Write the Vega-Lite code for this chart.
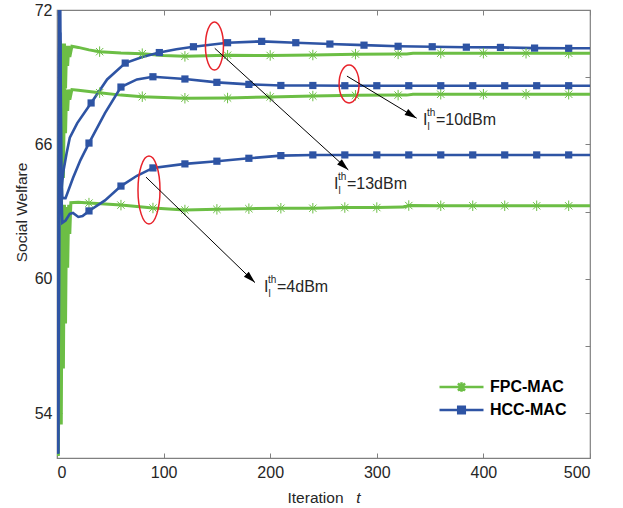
{
  "$schema": "https://vega.github.io/schema/vega-lite/v6.json",
  "width": 533,
  "height": 448,
  "autosize": "none",
  "padding": {"left": 57, "top": 10, "right": 33, "bottom": 50},
  "background": "white",
  "config": {
    "font": "Liberation Sans",
    "view": {"stroke": "#808080", "strokeWidth": 1.2},
    "axis": {
      "grid": false,
      "domain": false,
      "tickColor": "#808080",
      "tickSize": -5,
      "tickWidth": 1,
      "labelFont": "Liberation Sans",
      "labelFontSize": 16,
      "labelColor": "#262626",
      "titleFont": "Liberation Sans",
      "titleFontSize": 15.5,
      "titleFontWeight": "normal",
      "titleColor": "#262626"
    }
  },
  "datasets": {
    "curves": [
      {"s":"FPC-MAC","c":"13","t":1,"v":52.1,"m":0},
      {"s":"FPC-MAC","c":"13","t":2,"v":66,"m":0},
      {"s":"FPC-MAC","c":"13","t":3,"v":70.6,"m":0},
      {"s":"FPC-MAC","c":"13","t":4,"v":64.5,"m":0},
      {"s":"FPC-MAC","c":"13","t":5,"v":70.5,"m":0},
      {"s":"FPC-MAC","c":"13","t":6,"v":67,"m":0},
      {"s":"FPC-MAC","c":"13","t":7,"v":70.5,"m":0},
      {"s":"FPC-MAC","c":"13","t":8,"v":68.5,"m":0},
      {"s":"FPC-MAC","c":"13","t":9,"v":70.4,"m":0},
      {"s":"FPC-MAC","c":"13","t":10,"v":69.5,"m":0},
      {"s":"FPC-MAC","c":"13","t":11,"v":70.4,"m":0},
      {"s":"FPC-MAC","c":"13","t":12,"v":69.9,"m":0},
      {"s":"FPC-MAC","c":"13","t":14,"v":70.38,"m":0},
      {"s":"FPC-MAC","c":"13","t":20,"v":70.33,"m":0},
      {"s":"FPC-MAC","c":"13","t":30,"v":70.22,"m":0},
      {"s":"FPC-MAC","c":"13","t":40,"v":70.14,"m":1},
      {"s":"FPC-MAC","c":"13","t":60,"v":70.08,"m":0},
      {"s":"FPC-MAC","c":"13","t":80,"v":70.05,"m":1},
      {"s":"FPC-MAC","c":"13","t":100,"v":69.97,"m":0},
      {"s":"FPC-MAC","c":"13","t":120,"v":69.93,"m":1},
      {"s":"FPC-MAC","c":"13","t":160,"v":69.98,"m":1},
      {"s":"FPC-MAC","c":"13","t":200,"v":69.97,"m":1},
      {"s":"FPC-MAC","c":"13","t":240,"v":69.99,"m":1},
      {"s":"FPC-MAC","c":"13","t":280,"v":70.03,"m":1},
      {"s":"FPC-MAC","c":"13","t":320,"v":70.04,"m":1},
      {"s":"FPC-MAC","c":"13","t":328,"v":70.04,"m":0},
      {"s":"FPC-MAC","c":"13","t":334,"v":70.07,"m":0},
      {"s":"FPC-MAC","c":"13","t":360,"v":70.07,"m":1},
      {"s":"FPC-MAC","c":"13","t":400,"v":70.07,"m":1},
      {"s":"FPC-MAC","c":"13","t":440,"v":70.07,"m":1},
      {"s":"FPC-MAC","c":"13","t":480,"v":70.07,"m":1},
      {"s":"FPC-MAC","c":"13","t":500,"v":70.07,"m":0},

      {"s":"FPC-MAC","c":"10","t":1,"v":52.1,"m":0},
      {"s":"FPC-MAC","c":"10","t":2,"v":61,"m":0},
      {"s":"FPC-MAC","c":"10","t":3,"v":68.6,"m":0},
      {"s":"FPC-MAC","c":"10","t":4,"v":61.5,"m":0},
      {"s":"FPC-MAC","c":"10","t":5,"v":68.5,"m":0},
      {"s":"FPC-MAC","c":"10","t":6,"v":64.5,"m":0},
      {"s":"FPC-MAC","c":"10","t":7,"v":68.5,"m":0},
      {"s":"FPC-MAC","c":"10","t":8,"v":66.5,"m":0},
      {"s":"FPC-MAC","c":"10","t":9,"v":68.45,"m":0},
      {"s":"FPC-MAC","c":"10","t":10,"v":67.5,"m":0},
      {"s":"FPC-MAC","c":"10","t":11,"v":68.45,"m":0},
      {"s":"FPC-MAC","c":"10","t":12,"v":68.0,"m":0},
      {"s":"FPC-MAC","c":"10","t":14,"v":68.45,"m":0},
      {"s":"FPC-MAC","c":"10","t":20,"v":68.42,"m":0},
      {"s":"FPC-MAC","c":"10","t":40,"v":68.31,"m":1},
      {"s":"FPC-MAC","c":"10","t":60,"v":68.2,"m":0},
      {"s":"FPC-MAC","c":"10","t":80,"v":68.13,"m":1},
      {"s":"FPC-MAC","c":"10","t":120,"v":68.06,"m":1},
      {"s":"FPC-MAC","c":"10","t":160,"v":68.07,"m":1},
      {"s":"FPC-MAC","c":"10","t":200,"v":68.12,"m":1},
      {"s":"FPC-MAC","c":"10","t":240,"v":68.16,"m":1},
      {"s":"FPC-MAC","c":"10","t":280,"v":68.19,"m":1},
      {"s":"FPC-MAC","c":"10","t":320,"v":68.2,"m":1},
      {"s":"FPC-MAC","c":"10","t":328,"v":68.2,"m":0},
      {"s":"FPC-MAC","c":"10","t":334,"v":68.24,"m":0},
      {"s":"FPC-MAC","c":"10","t":360,"v":68.24,"m":1},
      {"s":"FPC-MAC","c":"10","t":400,"v":68.24,"m":1},
      {"s":"FPC-MAC","c":"10","t":440,"v":68.24,"m":1},
      {"s":"FPC-MAC","c":"10","t":480,"v":68.24,"m":1},
      {"s":"FPC-MAC","c":"10","t":500,"v":68.24,"m":0},

      {"s":"FPC-MAC","c":"4","t":1,"v":52.1,"m":0},
      {"s":"FPC-MAC","c":"4","t":2,"v":55,"m":0},
      {"s":"FPC-MAC","c":"4","t":3,"v":63.4,"m":0},
      {"s":"FPC-MAC","c":"4","t":4,"v":53.5,"m":0},
      {"s":"FPC-MAC","c":"4","t":5,"v":63.2,"m":0},
      {"s":"FPC-MAC","c":"4","t":6,"v":56,"m":0},
      {"s":"FPC-MAC","c":"4","t":7,"v":63.3,"m":0},
      {"s":"FPC-MAC","c":"4","t":8,"v":58,"m":0},
      {"s":"FPC-MAC","c":"4","t":9,"v":63.2,"m":0},
      {"s":"FPC-MAC","c":"4","t":10,"v":60.5,"m":0},
      {"s":"FPC-MAC","c":"4","t":11,"v":63.3,"m":0},
      {"s":"FPC-MAC","c":"4","t":12,"v":62,"m":0},
      {"s":"FPC-MAC","c":"4","t":13,"v":63.4,"m":0},
      {"s":"FPC-MAC","c":"4","t":20,"v":63.42,"m":0},
      {"s":"FPC-MAC","c":"4","t":30,"v":63.38,"m":1},
      {"s":"FPC-MAC","c":"4","t":60,"v":63.29,"m":1},
      {"s":"FPC-MAC","c":"4","t":90,"v":63.16,"m":1},
      {"s":"FPC-MAC","c":"4","t":120,"v":63.07,"m":1},
      {"s":"FPC-MAC","c":"4","t":150,"v":63.1,"m":1},
      {"s":"FPC-MAC","c":"4","t":180,"v":63.13,"m":1},
      {"s":"FPC-MAC","c":"4","t":210,"v":63.15,"m":1},
      {"s":"FPC-MAC","c":"4","t":240,"v":63.15,"m":1},
      {"s":"FPC-MAC","c":"4","t":270,"v":63.18,"m":1},
      {"s":"FPC-MAC","c":"4","t":300,"v":63.18,"m":1},
      {"s":"FPC-MAC","c":"4","t":325,"v":63.2,"m":0},
      {"s":"FPC-MAC","c":"4","t":330,"v":63.27,"m":1},
      {"s":"FPC-MAC","c":"4","t":360,"v":63.26,"m":1},
      {"s":"FPC-MAC","c":"4","t":390,"v":63.26,"m":1},
      {"s":"FPC-MAC","c":"4","t":420,"v":63.26,"m":1},
      {"s":"FPC-MAC","c":"4","t":450,"v":63.26,"m":1},
      {"s":"FPC-MAC","c":"4","t":480,"v":63.26,"m":1},
      {"s":"FPC-MAC","c":"4","t":500,"v":63.26,"m":0},

      {"s":"HCC-MAC","c":"13","t":1,"v":52.2,"m":0},
      {"s":"HCC-MAC","c":"13","t":2,"v":73,"m":0},
      {"s":"HCC-MAC","c":"13","t":3,"v":66,"m":0},
      {"s":"HCC-MAC","c":"13","t":4,"v":63.9,"m":0},
      {"s":"HCC-MAC","c":"13","t":6,"v":64.8,"m":0},
      {"s":"HCC-MAC","c":"13","t":9,"v":65.6,"m":0},
      {"s":"HCC-MAC","c":"13","t":12,"v":66.3,"m":0},
      {"s":"HCC-MAC","c":"13","t":19,"v":66.95,"m":0},
      {"s":"HCC-MAC","c":"13","t":32,"v":67.85,"m":1},
      {"s":"HCC-MAC","c":"13","t":47,"v":68.9,"m":0},
      {"s":"HCC-MAC","c":"13","t":64,"v":69.63,"m":1},
      {"s":"HCC-MAC","c":"13","t":80,"v":69.9,"m":0},
      {"s":"HCC-MAC","c":"13","t":96,"v":70.1,"m":1},
      {"s":"HCC-MAC","c":"13","t":112,"v":70.25,"m":0},
      {"s":"HCC-MAC","c":"13","t":128,"v":70.36,"m":1},
      {"s":"HCC-MAC","c":"13","t":160,"v":70.54,"m":1},
      {"s":"HCC-MAC","c":"13","t":192,"v":70.6,"m":1},
      {"s":"HCC-MAC","c":"13","t":224,"v":70.54,"m":1},
      {"s":"HCC-MAC","c":"13","t":256,"v":70.48,"m":1},
      {"s":"HCC-MAC","c":"13","t":288,"v":70.43,"m":1},
      {"s":"HCC-MAC","c":"13","t":320,"v":70.38,"m":1},
      {"s":"HCC-MAC","c":"13","t":352,"v":70.36,"m":1},
      {"s":"HCC-MAC","c":"13","t":384,"v":70.34,"m":1},
      {"s":"HCC-MAC","c":"13","t":416,"v":70.33,"m":1},
      {"s":"HCC-MAC","c":"13","t":448,"v":70.3,"m":1},
      {"s":"HCC-MAC","c":"13","t":480,"v":70.29,"m":1},
      {"s":"HCC-MAC","c":"13","t":500,"v":70.29,"m":0},

      {"s":"HCC-MAC","c":"10","t":1,"v":52.2,"m":0},
      {"s":"HCC-MAC","c":"10","t":2,"v":70,"m":0},
      {"s":"HCC-MAC","c":"10","t":3,"v":72.5,"m":0},
      {"s":"HCC-MAC","c":"10","t":4,"v":65,"m":0},
      {"s":"HCC-MAC","c":"10","t":5,"v":63.6,"m":0},
      {"s":"HCC-MAC","c":"10","t":8,"v":63.6,"m":0},
      {"s":"HCC-MAC","c":"10","t":15,"v":64.5,"m":0},
      {"s":"HCC-MAC","c":"10","t":22,"v":65.3,"m":0},
      {"s":"HCC-MAC","c":"10","t":30,"v":66.06,"m":1},
      {"s":"HCC-MAC","c":"10","t":45,"v":67.4,"m":0},
      {"s":"HCC-MAC","c":"10","t":60,"v":68.56,"m":1},
      {"s":"HCC-MAC","c":"10","t":75,"v":68.9,"m":0},
      {"s":"HCC-MAC","c":"10","t":90,"v":69.02,"m":1},
      {"s":"HCC-MAC","c":"10","t":120,"v":68.92,"m":1},
      {"s":"HCC-MAC","c":"10","t":150,"v":68.77,"m":1},
      {"s":"HCC-MAC","c":"10","t":180,"v":68.68,"m":1},
      {"s":"HCC-MAC","c":"10","t":210,"v":68.63,"m":1},
      {"s":"HCC-MAC","c":"10","t":240,"v":68.63,"m":1},
      {"s":"HCC-MAC","c":"10","t":270,"v":68.62,"m":1},
      {"s":"HCC-MAC","c":"10","t":300,"v":68.62,"m":1},
      {"s":"HCC-MAC","c":"10","t":330,"v":68.62,"m":1},
      {"s":"HCC-MAC","c":"10","t":360,"v":68.62,"m":1},
      {"s":"HCC-MAC","c":"10","t":390,"v":68.62,"m":1},
      {"s":"HCC-MAC","c":"10","t":420,"v":68.62,"m":1},
      {"s":"HCC-MAC","c":"10","t":450,"v":68.62,"m":1},
      {"s":"HCC-MAC","c":"10","t":480,"v":68.62,"m":1},
      {"s":"HCC-MAC","c":"10","t":500,"v":68.62,"m":0},

      {"s":"HCC-MAC","c":"4","t":1,"v":52.2,"m":0},
      {"s":"HCC-MAC","c":"4","t":2,"v":60,"m":0},
      {"s":"HCC-MAC","c":"4","t":3,"v":71,"m":0},
      {"s":"HCC-MAC","c":"4","t":4,"v":64,"m":0},
      {"s":"HCC-MAC","c":"4","t":5,"v":62.5,"m":0},
      {"s":"HCC-MAC","c":"4","t":8,"v":62.6,"m":0},
      {"s":"HCC-MAC","c":"4","t":12,"v":62.9,"m":0},
      {"s":"HCC-MAC","c":"4","t":15,"v":62.94,"m":0},
      {"s":"HCC-MAC","c":"4","t":20,"v":62.76,"m":0},
      {"s":"HCC-MAC","c":"4","t":24,"v":62.8,"m":0},
      {"s":"HCC-MAC","c":"4","t":30,"v":63.03,"m":1},
      {"s":"HCC-MAC","c":"4","t":45,"v":63.5,"m":0},
      {"s":"HCC-MAC","c":"4","t":60,"v":64.14,"m":1},
      {"s":"HCC-MAC","c":"4","t":75,"v":64.6,"m":0},
      {"s":"HCC-MAC","c":"4","t":90,"v":64.95,"m":1},
      {"s":"HCC-MAC","c":"4","t":120,"v":65.13,"m":1},
      {"s":"HCC-MAC","c":"4","t":150,"v":65.25,"m":1},
      {"s":"HCC-MAC","c":"4","t":180,"v":65.38,"m":1},
      {"s":"HCC-MAC","c":"4","t":210,"v":65.5,"m":1},
      {"s":"HCC-MAC","c":"4","t":240,"v":65.53,"m":1},
      {"s":"HCC-MAC","c":"4","t":270,"v":65.53,"m":1},
      {"s":"HCC-MAC","c":"4","t":300,"v":65.53,"m":1},
      {"s":"HCC-MAC","c":"4","t":330,"v":65.53,"m":1},
      {"s":"HCC-MAC","c":"4","t":360,"v":65.53,"m":1},
      {"s":"HCC-MAC","c":"4","t":390,"v":65.53,"m":1},
      {"s":"HCC-MAC","c":"4","t":420,"v":65.53,"m":1},
      {"s":"HCC-MAC","c":"4","t":450,"v":65.53,"m":1},
      {"s":"HCC-MAC","c":"4","t":480,"v":65.53,"m":1},
      {"s":"HCC-MAC","c":"4","t":500,"v":65.53,"m":0}
    ],
    "notes": [
      {"k":"13","ex":147.7,"ey":70.39,"ax":148,"ay":70.29,"bx":273.3,"by":64.86,"tx":259.8,"ty":64.01,"lab":"=13dBm"},
      {"k":"10","ex":274,"ey":68.7,"ax":272,"ay":69.05,"bx":337.4,"by":67.17,"tx":343.3,"ty":66.87,"lab":"=10dBm"},
      {"k":"4","ex":86.3,"ey":63.96,"ax":83.5,"ay":64.54,"bx":185.7,"by":59.83,"tx":194.2,"ty":59.41,"lab":"=4dBm"}
    ]
  },
  "resolve": {"axis": {"x": "independent", "y": "independent"}, "scale": {"shape": "independent"}},
  "layer": [
    {
      "data": {"name": "curves"},
      "transform": [{"filter": "datum.s === 'FPC-MAC'"}],
      "mark": {"type": "line", "strokeWidth": 3, "clip": true},
      "encoding": {
        "x": {"field": "t", "type": "quantitative",
              "scale": {"domain": [0, 500], "nice": false},
              "axis": {"orient": "bottom", "values": [0, 100, 200, 300, 400, 500], "labelPadding": 11, "title": "Iteration", "titleX": 258, "titleY": 44, "titleBaseline": "alphabetic", "titleAlign": "center"}},
        "y": {"field": "v", "type": "quantitative",
              "scale": {"domain": [52, 72], "nice": false, "zero": false},
              "axis": {"orient": "left", "values": [54, 57, 60, 63, 66, 69, 72], "labelExpr": "datum.value % 6 == 0 ? datum.label : ''", "labelPadding": 10, "title": "Social Welfare", "titleX": -36, "titleY": 202, "titleAngle": -90, "titleBaseline": "middle", "titleAlign": "center"}},
        "color": {"field": "s", "type": "nominal",
                  "scale": {"domain": ["FPC-MAC", "HCC-MAC"], "range": ["#6CBE45", "#2E54A4"]},
                  "legend": {
                    "orient": "none", "legendX": 381, "legendY": 365.5, "title": null,
                    "padding": 0, "rowPadding": 0, "clipHeight": 23,
                    "symbolSize": 1936, "symbolStrokeWidth": 2.5,
                    "labelFont": "Liberation Sans", "labelFontSize": 16, "labelFontWeight": "bold", "labelColor": "#000000", "labelOffset": 5,
                    "encode": {"symbols": {"update": {
                      "shape": {"signal": "datum.value === 'FPC-MAC' ? 'M-1,0H1M-0.22,0H0.22M0,-0.22V0.22M-0.16,-0.16L0.16,0.16M-0.16,0.16L0.16,-0.16' : 'M-1,0H1M-0.15,-0.15H0.15V0.15H-0.15Z'"},
                      "fill": {"signal": "datum.value === 'FPC-MAC' ? 'transparent' : '#2E54A4'"},
                      "stroke": {"signal": "datum.value === 'FPC-MAC' ? '#6CBE45' : '#2E54A4'"},
                      "strokeWidth": {"value": 2.5},
                      "opacity": {"value": 1}
                    }}}
                  }},
        "detail": {"field": "c"}
      }
    },
    {
      "data": {"name": "curves"},
      "transform": [{"filter": "datum.s === 'HCC-MAC'"}],
      "mark": {"type": "line", "strokeWidth": 2.6, "clip": true},
      "encoding": {
        "x": {"field": "t", "type": "quantitative",
              "axis": {"orient": "top", "values": [0, 100, 200, 300, 400, 500], "labels": false, "title": null}},
        "y": {"field": "v", "type": "quantitative",
              "axis": {"orient": "right", "values": [54, 57, 60, 63, 66, 69, 72], "labels": false, "title": null}},
        "color": {"field": "s", "type": "nominal"},
        "detail": {"field": "c"}
      }
    },
    {
      "data": {"name": "curves"},
      "transform": [{"filter": "datum.s === 'FPC-MAC' && datum.m == 1"}],
      "mark": {"type": "point", "filled": false, "shape": "M-1,0H1M0,-1V1M-0.7,-0.7L0.7,0.7M-0.7,0.7L0.7,-0.7", "size": 110, "strokeWidth": 1, "color": "#6CBE45", "opacity": 1},
      "encoding": {
        "x": {"field": "t", "type": "quantitative",
              "axis": {"orient": "bottom", "labels": false, "ticks": false, "domain": false, "title": "t", "titleFontStyle": "italic", "titleX": 301, "titleY": 44, "titleBaseline": "alphabetic", "titleAlign": "center"}},
        "y": {"field": "v", "type": "quantitative", "axis": null}
      }
    },
    {
      "data": {"name": "curves"},
      "transform": [{"filter": "datum.s === 'HCC-MAC' && datum.m == 1"}],
      "mark": {"type": "point", "filled": true, "shape": "square", "size": 52, "color": "#2E54A4", "opacity": 1},
      "encoding": {
        "x": {"field": "t", "type": "quantitative", "axis": null},
        "y": {"field": "v", "type": "quantitative", "axis": null}
      }
    },
    {
      "data": {"name": "notes"},
      "mark": {"type": "point", "filled": false, "size": 4624, "strokeWidth": 1.5, "color": "#E8232B", "opacity": 1},
      "encoding": {
        "x": {"field": "ex", "type": "quantitative", "axis": null},
        "y": {"field": "ey", "type": "quantitative", "axis": null},
        "shape": {"field": "k", "type": "nominal", "legend": null,
                  "scale": {"domain": ["13", "10", "4"], "range": [
                    "M0,-0.706A0.265,0.706 0 1,1 0,0.706A0.265,0.706 0 1,1 0,-0.706Z",
                    "M0,-0.559A0.294,0.559 0 1,1 0,0.559A0.294,0.559 0 1,1 0,-0.559Z",
                    "M0,-1A0.324,1 0 1,1 0,1A0.324,1 0 1,1 0,-1Z"]}}
      }
    },
    {
      "data": {"name": "notes"},
      "mark": {"type": "rule", "color": "#000000", "strokeWidth": 1},
      "encoding": {
        "x": {"field": "ax", "type": "quantitative", "axis": null},
        "y": {"field": "ay", "type": "quantitative", "axis": null},
        "x2": {"field": "bx"},
        "y2": {"field": "by"}
      }
    },
    {
      "data": {"name": "notes"},
      "mark": {"type": "point", "filled": true, "size": 576, "color": "#000000", "opacity": 1},
      "encoding": {
        "x": {"field": "bx", "type": "quantitative", "axis": null},
        "y": {"field": "by", "type": "quantitative", "axis": null},
        "shape": {"field": "k", "type": "nominal", "legend": null,
                  "scale": {"domain": ["13", "10", "4"], "range": [
                    "M0,0L-0.933,-0.462L-0.541,-0.890Z",
                    "M0,0L-1.007,-0.266L-0.709,-0.764Z",
                    "M0,0L-0.919,-0.489L-0.515,-0.905Z"]}}
      }
    },
    {
      "data": {"name": "notes"},
      "mark": {"type": "text", "text": "I", "align": "left", "baseline": "alphabetic", "fontSize": 16, "color": "#262626"},
      "encoding": {
        "x": {"field": "tx", "type": "quantitative", "axis": null},
        "y": {"field": "ty", "type": "quantitative", "axis": null}
      }
    },
    {
      "data": {"name": "notes"},
      "mark": {"type": "text", "text": "th", "align": "left", "baseline": "alphabetic", "fontSize": 10, "dx": 4, "dy": -9, "color": "#262626"},
      "encoding": {
        "x": {"field": "tx", "type": "quantitative", "axis": null},
        "y": {"field": "ty", "type": "quantitative", "axis": null}
      }
    },
    {
      "data": {"name": "notes"},
      "mark": {"type": "text", "text": "l", "align": "left", "baseline": "alphabetic", "fontSize": 10, "dx": 4.5, "dy": 5, "color": "#262626"},
      "encoding": {
        "x": {"field": "tx", "type": "quantitative", "axis": null},
        "y": {"field": "ty", "type": "quantitative", "axis": null}
      }
    },
    {
      "data": {"name": "notes"},
      "mark": {"type": "text", "align": "left", "baseline": "alphabetic", "fontSize": 16, "dx": 13, "color": "#262626"},
      "encoding": {
        "x": {"field": "tx", "type": "quantitative", "axis": null},
        "y": {"field": "ty", "type": "quantitative", "axis": null},
        "text": {"field": "lab"}
      }
    }
  ]
}
